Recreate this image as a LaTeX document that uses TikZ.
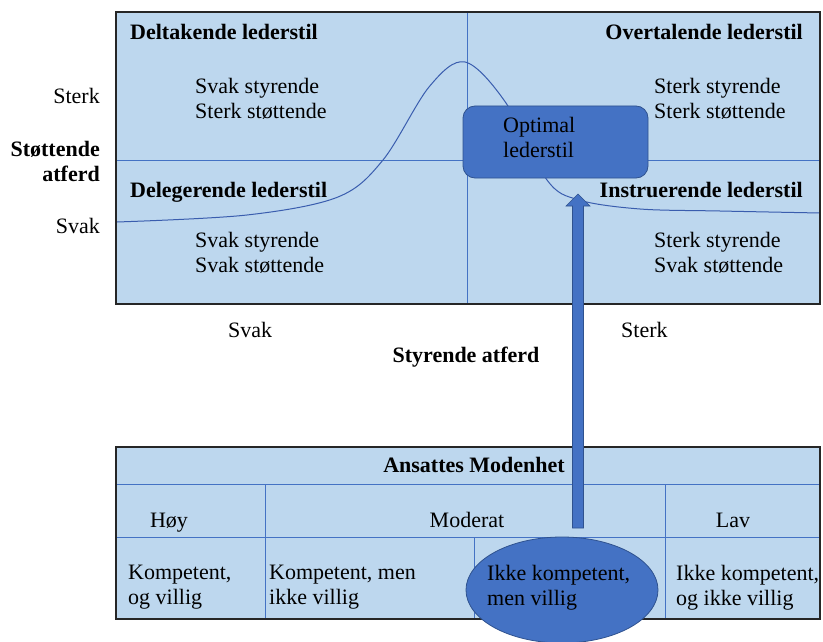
\documentclass[tikz,border=0pt]{standalone}
\usepackage{fontspec}
\setmainfont{Liberation Serif}
\usetikzlibrary{shapes.geometric,calc}
\definecolor{lightfill}{HTML}{BDD7EE}
\definecolor{midblue}{HTML}{4472C4}
\definecolor{darkblue}{HTML}{2F528F}
\definecolor{curveblue}{HTML}{3A5DAE}
\begin{document}
\begin{tikzpicture}[x=1pt,y=-1pt,
  txt/.style={font=\fontsize{22}{25}\selectfont, inner sep=0pt, align=left},
  btxt/.style={font=\fontsize{22}{25}\selectfont\bfseries, inner sep=0pt, align=left},
  gridline/.style={midblue, line width=1pt},
  frame/.style={draw=black!85, line width=1.3pt}]
\useasboundingbox (0,0) rectangle (823,642);

% upper chart
\fill[lightfill] (116,12) rectangle (820,304);
\draw[gridline] (467,12) -- (467,304);
\draw[gridline] (116,160) -- (820,160);
\draw[curveblue, line width=1pt] plot[smooth, tension=0.55] coordinates {(117,222) (247,215) (338,197) (383,160) (429,87) (465,62) (506,103) (547,180) (579,200) (640,209) (720,211) (820,213)};
\draw[frame] (116,12) rectangle (820,304);

\node[draw=darkblue, fill=midblue, rounded corners=12pt, minimum width=185pt, minimum height=72pt, line width=0.8pt] (opt) at (555.5,142) {};
\node[txt, anchor=north west] (optT) at (503,117) {Optimal\\lederstil};

\node[btxt, anchor=base west] (delt) at (130,40) {Deltakende lederstil};
\node[btxt, anchor=base east] (over) at (803,40) {Overtalende lederstil};
\node[btxt, anchor=base west] (dele) at (130,197) {Delegerende lederstil};
\node[btxt, anchor=base east] (instr) at (803,197) {Instruerende lederstil};
\node[txt, anchor=north west] (q1) at (195,78) {Svak styrende\\Sterk støttende};
\node[txt, anchor=north west] (q2) at (654,78) {Sterk styrende\\Sterk støttende};
\node[txt, anchor=north west] (q3) at (195,232) {Svak styrende\\Svak støttende};
\node[txt, anchor=north west] (q4) at (654,232) {Sterk styrende\\Svak støttende};

% axis labels
\node[txt, anchor=base east] (ysterk) at (100,104) {Sterk};
\node[btxt, anchor=base east] (yl1) at (100,157) {Støttende};
\node[btxt, anchor=base east] (yl2) at (100,182) {atferd};
\node[txt, anchor=base east] (ysvak) at (100,233) {Svak};
\node[txt, anchor=base west] (xsvak) at (228,337) {Svak};
\node[txt, anchor=base west] (xsterk) at (621,337) {Sterk};
\node[btxt, anchor=base] (xlab) at (466,362) {Styrende atferd};

% lower table
\fill[lightfill] (116,447) rectangle (820,619);
\draw[gridline] (116,484) -- (820,484);
\draw[gridline] (116,537) -- (820,537);
\draw[gridline] (265,484) -- (265,619);
\draw[gridline] (665,484) -- (665,619);
\draw[gridline] (474,537) -- (474,619);
\draw[frame] (116,447) rectangle (820,619);

\node[btxt, anchor=base] (mod) at (474,472) {Ansattes Modenhet};
\node[txt, anchor=base] (hoy) at (169,527) {Høy};
\node[txt, anchor=base] (moderat) at (467,527) {Moderat};
\node[txt, anchor=base] (lav) at (733,527) {Lav};
\node[txt, anchor=north west] (c1) at (128,565) {Kompetent,\\og villig};
\node[txt, anchor=north west] (c2) at (269,565) {Kompetent, men\\ikke villig};
\node[draw=darkblue, fill=midblue, ellipse, minimum width=192pt, minimum height=106pt, line width=0.8pt] (ell) at (562,590) {};
\node[txt, anchor=north west] (c3) at (487,565) {Ikke kompetent,\\men villig};
\node[txt, anchor=north west] (c4) at (676,565) {Ikke kompetent,\\og ikke villig};

% arrow
\coordinate (arS) at (578,528);
\coordinate (arT) at (578,194);
\draw[fill=midblue, draw=darkblue, line width=0.6pt]
  ($(arS)+(-5.5,0)$) -- ($(arT)+(-5.5,12)$) -- ($(arT)+(-12,12)$) -- (arT)
  -- ($(arT)+(12,12)$) -- ($(arT)+(5.5,12)$) -- ($(arS)+(5.5,0)$) -- cycle;
\end{tikzpicture}
\end{document}
